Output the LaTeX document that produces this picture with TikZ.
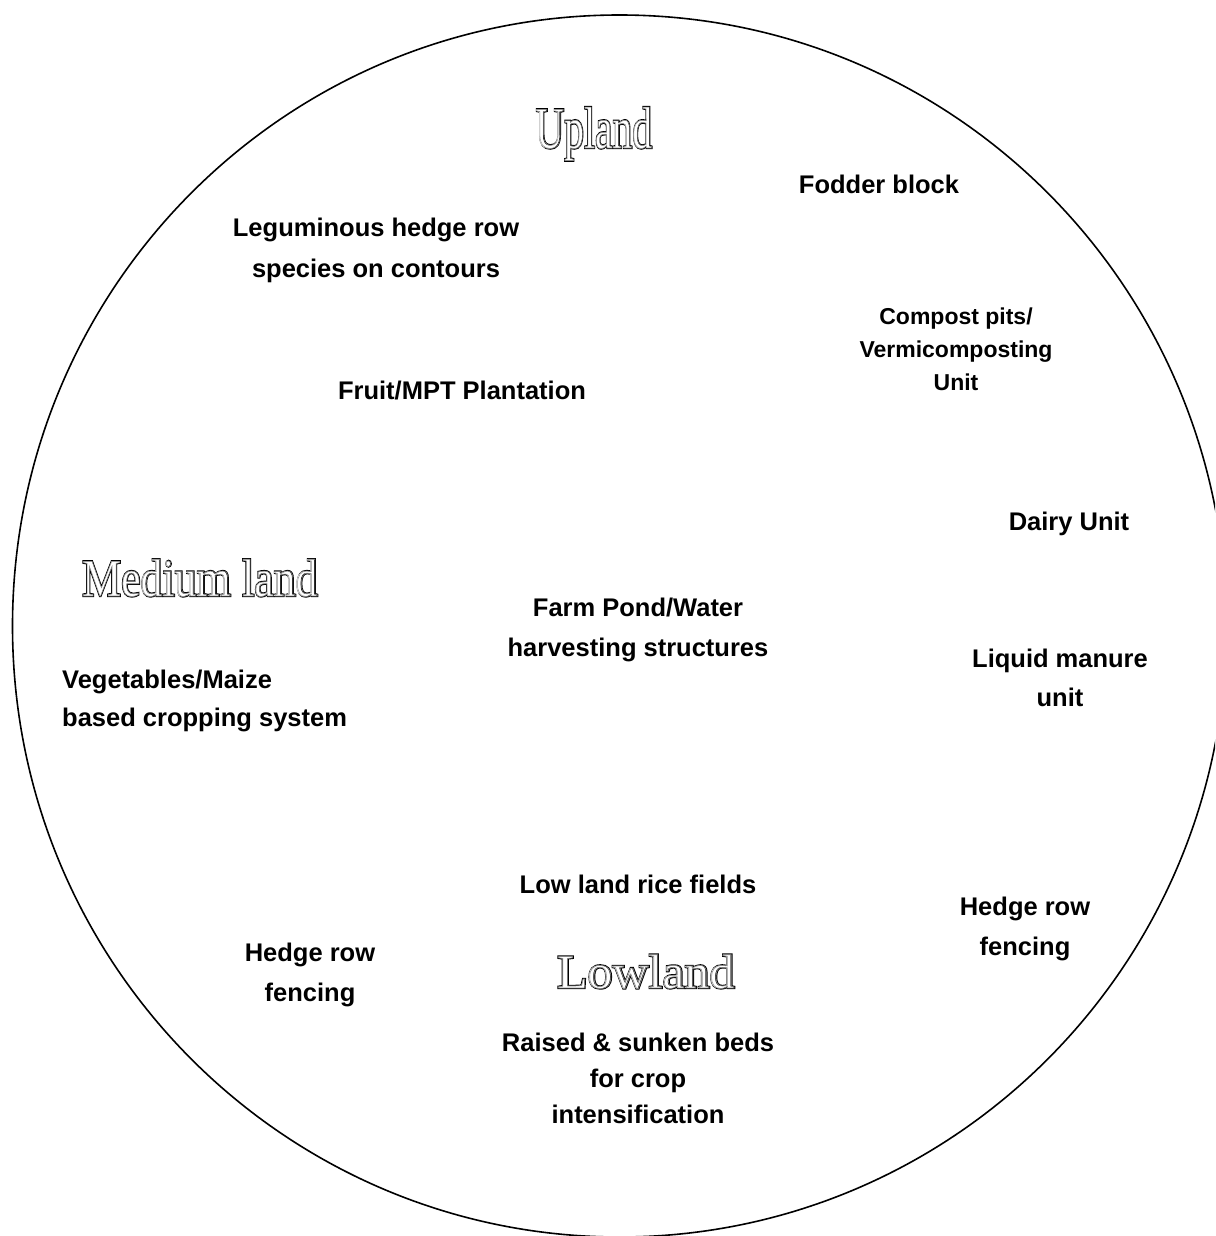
\documentclass[tikz,border=0pt]{standalone}
\usepackage{fontspec}
\setmainfont{Liberation Sans}
\newfontfamily\outfont{Liberation Serif}
\newcommand\zonetxt[1]{%
  \rlap{\special{pdf:literal direct 1 Tr 2.4 w}#1\special{pdf:literal direct 0 Tr}}%
  \rlap{\color{white}#1}%
  {\color{black!45}\special{pdf:literal direct 1 Tr 0.6 w}#1\special{pdf:literal direct 0 Tr}}}
\tikzset{
  lbl/.style={font=\bfseries\fontsize{25.5}{40}\selectfont, align=center, anchor=base, inner sep=0pt},
  zone/.style={anchor=base, inner sep=0pt},
  rim/.style={draw=black, line width=1.6pt}
}
\begin{document}
\begin{tikzpicture}[x=1pt,y=-1pt]
\useasboundingbox (0,0) rectangle (1215,1236);
\begin{scope}
\clip (0,0) rectangle (1215,1236);
\draw[rim] (619.5,626) ellipse [x radius=607, y radius=611];
\end{scope}
% zone titles
\node[zone] (up) at (594,148) {\scalebox{0.67}[1]{\outfont\fontsize{59}{59}\selectfont\zonetxt{Upland}}};
\node[zone] (med) at (200,596) {\scalebox{0.83}[1]{\outfont\fontsize{53}{53}\selectfont\zonetxt{Medium land}}};
\node[zone] (low) at (646,988) {\scalebox{1.04}[1]{\outfont\fontsize{48}{48}\selectfont\zonetxt{Lowland}}};
% labels (base anchor = baseline of the last line)
\node[lbl] (fodder) at (879,193) {Fodder block};
\node[lbl, font=\bfseries\fontsize{25.5}{41}\selectfont] (legum) at (376,277) {Leguminous hedge row\\species on contours};
\node[lbl, font=\bfseries\fontsize{23}{33}\selectfont] (compost) at (956,390) {Compost pits/\\Vermicomposting\\Unit};
\node[lbl] (fruit) at (462,399) {Fruit/MPT Plantation};
\node[lbl] (dairy) at (1069,530) {Dairy Unit};
\node[lbl] (pond) at (638,656) {Farm Pond/Water\\harvesting structures};
\node[lbl, font=\bfseries\fontsize{25.5}{39}\selectfont] (liquid) at (1060,706) {Liquid manure\\unit};
\node[lbl, align=left, anchor=base west, font=\bfseries\fontsize{25.5}{38}\selectfont] (veg) at (62,726) {Vegetables/Maize\\based cropping system};
\node[lbl] (rice) at (638,893) {Low land rice fields};
\node[lbl] (hedgeR) at (1025,955) {Hedge row\\fencing};
\node[lbl] (hedgeL) at (310,1001) {Hedge row\\fencing};
\node[lbl, font=\bfseries\fontsize{25.5}{36}\selectfont] (raised) at (638,1123) {Raised \& sunken beds\\for crop\\intensification};
\end{tikzpicture}
\end{document}
